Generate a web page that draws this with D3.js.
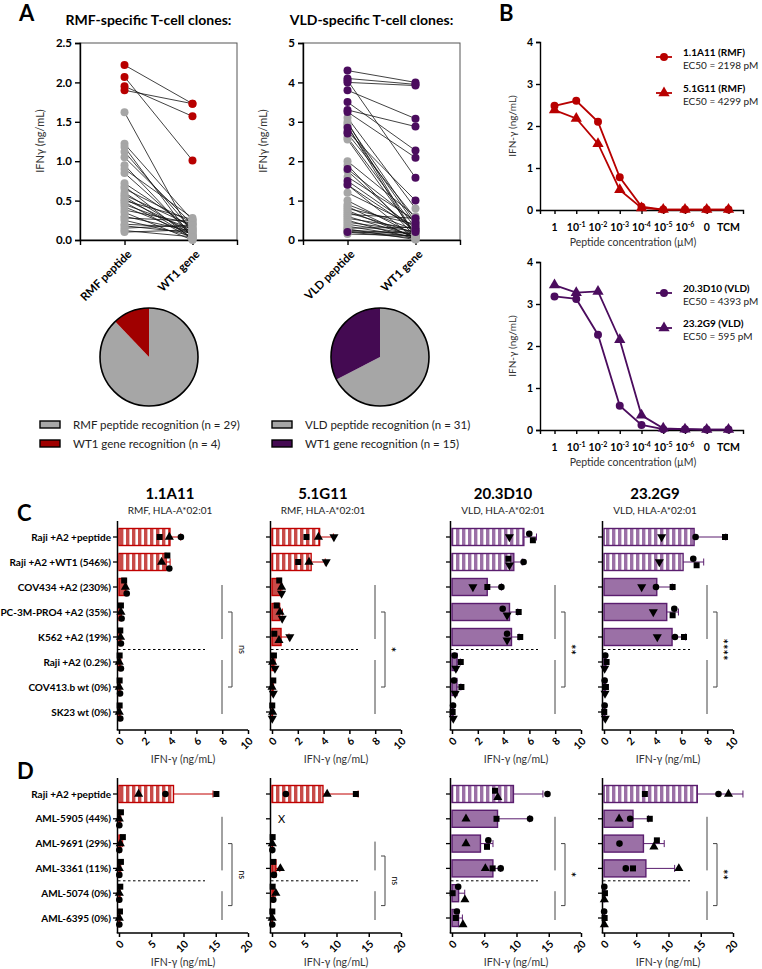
<!DOCTYPE html>
<html>
<head>
<meta charset="utf-8">
<script src="https://cdn.jsdelivr.net/npm/d3@7"></script>
<style>
  body { margin: 0; background: #fff; }
  svg { display: block; font-family: Lato, "Open Sans", sans-serif; }
</style>
</head>
<body>
<svg id="fig" width="762" height="969"></svg>
<script>
// ---- panel A data (one entry per T-cell clone) ----
var rmfPeptide = [2.22, 2.07, 1.95, 1.90, 1.62, 1.22, 1.18, 1.12, 1.05, 0.95, 0.90, 0.85, 0.72, 0.68, 0.65, 0.60, 0.57,
    0.55, 0.52, 0.50, 0.48, 0.45, 0.42, 0.38, 0.35, 0.30, 0.28, 0.25, 0.20, 0.18, 0.15, 0.12, 0.10];
var rmfGene = [1.73, 1.01, 1.57, 1.73, 0.05, 0.25, 0.02, 0.12, 0.20, 0.04, 0.28, 0.08, 0.15, 0.01, 0.22, 0.06, 0.18,
    0.03, 0.10, 0.26, 0.02, 0.14, 0.07, 0.21, 0.00, 0.11, 0.24, 0.05, 0.16, 0.09, 0.19, 0.04, 0.13];
var rmfGeneHit = [1, 1, 1, 1, 0, 0, 0, 0, 0, 0, 0, 0, 0, 0, 0, 0, 0, 0, 0, 0, 0, 0, 0, 0, 0, 0, 0, 0, 0, 0, 0, 0, 0];
var vldPeptide = [4.30, 4.10, 4.05, 4.00, 3.80, 3.50, 3.30, 3.25, 2.85, 2.75, 2.70, 1.80, 1.50, 1.40, 0.20,
    3.10, 3.00, 2.95, 2.90, 2.60, 2.55, 2.00, 1.90, 1.75, 1.60, 1.40, 1.20, 1.00, 0.90, 0.85, 0.80, 0.75, 0.70,
    0.65, 0.60, 0.55, 0.50, 0.45, 0.40, 0.35, 0.30, 0.28, 0.25, 0.22, 0.20, 0.15];
var vldGene = [4.00, 3.95, 1.58, 3.92, 3.08, 2.27, 2.88, 2.09, 0.38, 1.00, 0.55, 0.45, 0.30, 0.25, 0.20,
    0.80, 0.10, 0.45, 0.05, 0.30, 0.15, 0.60, 0.08, 0.20, 0.50, 0.02, 0.35, 0.12, 0.25, 0.04, 0.40, 0.06, 0.18,
    0.55, 0.09, 0.28, 0.03, 0.22, 0.14, 0.07, 0.32, 0.01, 0.16, 0.10, 0.05, 0.11];
var vldGeneHit = [1, 1, 1, 1, 1, 1, 1, 1, 1, 1, 1, 1, 1, 1, 1,
    0, 0, 0, 0, 0, 0, 0, 0, 0, 0, 0, 0, 0, 0, 0, 0, 0, 0, 0, 0, 0, 0, 0, 0, 0, 0, 0, 0, 0, 0, 0];
var rmfCounts = [29, 4];
var vldCounts = [31, 15];

// ---- panel B data ----
var concLabels = ["1", "10-1", "10-2", "10-3", "10-4", "10-5", "10-6", "0", "TCM"];
var ifn1A11 = [2.48, 2.60, 2.10, 0.78, 0.08, 0.01, 0.01, 0.01, 0.01];
var ifn5G11 = [2.38, 2.18, 1.58, 0.48, 0.05, 0.01, 0.01, 0.01, 0.01];
var ifn3D10 = [3.18, 3.12, 2.27, 0.58, 0.12, 0.02, 0.02, 0.01, 0.01];
var ifn2G9 = [3.45, 3.27, 3.30, 2.15, 0.35, 0.04, 0.02, 0.01, 0.01];

// ---- panel C / D data: three replicates per cell line ----
var clones = ["1.1A11", "5.1G11", "20.3D10", "23.2G9"];
var cloneInfo = ["RMF, HLA-A*02:01", "RMF, HLA-A*02:01", "VLD, HLA-A*02:01", "VLD, HLA-A*02:01"];
var cLines = ["Raji +A2 +peptide", "Raji +A2 +WT1 (546%)", "COV434 +A2 (230%)", "PC-3M-PRO4 +A2 (35%)",
    "K562 +A2 (19%)", "Raji +A2 (0.2%)", "COV413.b wt (0%)", "SK23 wt (0%)"];
var dLines = ["Raji +A2 +peptide", "AML-5905 (44%)", "AML-9691 (29%)", "AML-3361 (11%)", "AML-5074 (0%)", "AML-6395 (0%)"];
var cSymbols = [["square", "triangle", "circle"], ["square", "triangle", "triangleDown"],
    ["circle", "square", "triangleDown"], ["circle", "square", "triangleDown"]];
var dSymbols = [["square", "triangle", "circle"], ["square", "triangle", "circle"],
    ["circle", "square", "triangle"], ["circle", "square", "triangle"]];
var cReps = [
    [[3.15, 3.9, 4.8], [3.75, 3.3, 3.9], [0.4, 0.5, 0.6], [0.15, 0.15, 0.2], [0.1, 0.12, 0.15], [0.05, 0.02, 0.15], [0.05, 0.02, 0.08], [0.05, 0.02, 0.1]],
    [[2.67, 3.6, 4.8], [2.03, 2.87, 4.2], [0.56, 0.74, 0.74], [0.36, 0.62, 0.79], [0.18, 0.54, 1.38], [0.15, 0.05, 0.23], [0.1, 0.0, 0.1], [0.02, 0.05, 0.02]],
    [[5.99, 6.27, 4.45], [5.55, 4.37, 4.45], [3.83, 2.74, 1.62], [3.93, 5.17, 4.27], [4.27, 5.29, 4.27], [0.2, 0.68, 0.3], [0.16, 0.73, 0.25], [0.08, 0.05, 0.1]],
    [[7.1, 9.38, 4.47], [6.92, 7.18, 4.29], [4.03, 5.32, 2.92], [5.45, 5.32, 3.82], [5.5, 6.2, 4.13], [0.1, 0.2, 0.05], [0.05, 0.15, 0.08], [0.05, 0.02, 0.1]]
];
var dReps = [
    [[15.1, 3.04, 7.2], [0.3, 0.05, 0.05], [0.6, 0.2, 0.05], [0.3, 0.05, 0.05], [0.2, 0.05, 0.05], [0.15, 0.05, 0.05]],
    [[13.0, 8.55, 2.15], null, [0.1, 0.05, 0.05], [0.2, 1.3, 0.3], [0.1, 0.6, 0.2], [0.05, 0.02, 0.05]],
    [[14.8, 6.67, 7.1], [12.1, 6.9, 2.17], [5.63, 5.43, 2.17], [7.55, 6.3, 5.17], [0.96, 0.1, 2.0], [0.75, 0.6, 1.7]],
    [[17.75, 6.34, 19.3], [4.05, 7.1, 2.34], [2.4, 8.2, 7.74], [3.38, 4.5, 11.6], [0.05, 0.15, 0.05], [0.02, 0.1, 0.05]]
];
var cStats = ["ns", "*", "**", "****"];
var dStats = ["ns", "ns", "*", "**"];

// ---- colours ----
var red = "#b80000", purple = "#4b0c5e", grey = "#a6a6a6";
var pieRed = "#a00000", piePurple = "#440a52";
var barRedFill = "#c84b48", barRedLine = "#c00000";
var barPurpleFill = "#9b70a6", barPurpleLine = "#5a1d6e";

var svg = d3.select("#fig");
svg.append("rect").attr("width", 762).attr("height", 969).attr("fill", "#fff");
var defs = svg.append("defs");
var hatch = function (id, stripe) {
    var p = defs.append("pattern").attr("id", id)
        .attr("patternUnits", "userSpaceOnUse").attr("width", 6).attr("height", 10);
    p.append("rect").attr("width", 6).attr("height", 10).attr("fill", "#fff");
    p.append("rect").attr("width", 3.4).attr("height", 10).attr("fill", stripe);
};
hatch("hatchRed", barRedFill);
hatch("hatchPurple", barPurpleFill);

var panelLetter = function (t, x, y) {
    svg.append("text").attr("x", x).attr("y", y).attr("font-size", 22).attr("font-weight", 700).text(t);
};
panelLetter("A", 19, 21);
panelLetter("B", 499, 21);
panelLetter("C", 17, 521);
panelLetter("D", 17, 779);

// ================= panel A =================
var pairedPanel = function (opt) {
    var g = svg.append("g");
    var x = d3.scalePoint().domain(opt.cats).range([opt.left, opt.right]).padding(0.655);
    var y = d3.scaleLinear().domain([0, opt.max]).range([240, 43]);
    g.append("text").attr("x", (opt.left + opt.right) / 2 - 10).attr("y", 25).attr("text-anchor", "middle")
        .attr("font-size", 14).attr("font-weight", 700).text(opt.title);
    g.append("rect").attr("x", opt.left).attr("y", 43).attr("width", opt.right - opt.left).attr("height", 197)
        .attr("fill", "none").attr("stroke", "#555").attr("stroke-width", 1);
    var ya = g.append("g").attr("transform", "translate(" + opt.left + ",0)")
        .call(d3.axisLeft(y).tickValues(opt.ticks).tickFormat(d3.format(opt.fmt)).tickSize(5));
    ya.selectAll("text").attr("font-size", 11.5).attr("font-weight", 700).attr("font-family", "Lato");
    ya.selectAll("line, path").attr("stroke", "#000").attr("stroke-width", 1.4);
    var xa = g.append("g").attr("transform", "translate(0,240)")
        .call(d3.axisBottom(x).tickSize(5).tickFormat(""));
    xa.selectAll("line, path").attr("stroke", "#000").attr("stroke-width", 1.4);
    opt.cats.forEach(function (c) {
        g.append("text").attr("transform", "translate(" + (x(c) + 5) + ",252) rotate(-45)")
            .attr("text-anchor", "end").attr("dy", "0.35em").attr("font-size", 11.5).attr("font-weight", 700).text(c);
    });
    g.append("text").attr("transform", "translate(" + (opt.left - 36) + ",141) rotate(-90)")
        .attr("text-anchor", "middle").attr("font-size", 11).attr("fill", "#333").text("IFNγ (ng/mL)");
    var idx = d3.range(opt.peptide.length);
    g.selectAll("line.pair").data(idx).enter().append("line")
        .attr("x1", x(opt.cats[0])).attr("x2", x(opt.cats[1]))
        .attr("y1", function (i) { return y(opt.peptide[i]); })
        .attr("y2", function (i) { return y(opt.gene[i]); })
        .attr("stroke", "#111").attr("stroke-width", 0.8);
    var order = idx.slice().sort(function (a, b) { return opt.hit[a] - opt.hit[b]; });
    order.forEach(function (i) {
        var col = opt.hit[i] ? opt.color : grey;
        g.append("circle").attr("cx", x(opt.cats[0])).attr("cy", y(opt.peptide[i])).attr("r", 4).attr("fill", col);
        g.append("circle").attr("cx", x(opt.cats[1])).attr("cy", y(opt.gene[i])).attr("r", 4).attr("fill", col);
    });
};
pairedPanel({ title: "RMF-specific T-cell clones:", cats: ["RMF peptide", "WT1 gene"], left: 80, right: 237,
    max: 2.5, ticks: [0, 0.5, 1, 1.5, 2, 2.5], fmt: ".1f", peptide: rmfPeptide, gene: rmfGene, hit: rmfGeneHit, color: red });
pairedPanel({ title: "VLD-specific T-cell clones:", cats: ["VLD peptide", "WT1 gene"], left: 303, right: 460,
    max: 5, ticks: [0, 1, 2, 3, 4, 5], fmt: "d", peptide: vldPeptide, gene: vldGene, hit: vldGeneHit, color: purple });

// pies
var pie = d3.pie().sort(null);
var arc = d3.arc().innerRadius(0).outerRadius(49);
var drawPie = function (cx, counts, col) {
    var g = svg.append("g").attr("transform", "translate(" + cx + ",357)");
    g.selectAll("path").data(pie(counts)).enter().append("path")
        .attr("d", arc).attr("fill", function (d, i) { return i === 0 ? grey : col; });
    g.append("circle").attr("r", 49).attr("fill", "none").attr("stroke", "#000").attr("stroke-width", 1.6);
};
drawPie(149, rmfCounts, pieRed);
drawPie(380, vldCounts, piePurple);

var legendRows = [
    { x: 40, y: 425, fill: grey, text: "RMF peptide recognition (n = " + rmfCounts[0] + ")" },
    { x: 40, y: 444, fill: pieRed, text: "WT1 gene recognition (n = " + rmfCounts[1] + ")" },
    { x: 272, y: 425, fill: grey, text: "VLD peptide recognition (n = " + vldCounts[0] + ")" },
    { x: 272, y: 444, fill: piePurple, text: "WT1 gene recognition (n = " + vldCounts[1] + ")" }
];
legendRows.forEach(function (r) {
    svg.append("rect").attr("x", r.x).attr("y", r.y - 4).attr("width", 20).attr("height", 7)
        .attr("fill", r.fill).attr("stroke", "#000").attr("stroke-width", 1.4);
    svg.append("text").attr("x", r.x + 33).attr("y", r.y).attr("dy", "0.35em")
        .attr("font-size", 11.5).attr("fill", "#222").text(r.text);
});

// ================= panel B =================
var symbolPath = function (type, size) {
    if (type === "circle") return d3.symbol(d3.symbolCircle, size)();
    if (type === "square") return d3.symbol(d3.symbolSquare, size)();
    return d3.symbol(d3.symbolTriangle, size)();
};
var curvePanel = function (yTop, yBot, series) {
    var g = svg.append("g");
    var x = d3.scalePoint().domain(concLabels).range([540, 743]).padding(0.667);
    var y = d3.scaleLinear().domain([0, 4]).range([yBot, yTop]);
    var ya = g.append("g").attr("transform", "translate(540,0)")
        .call(d3.axisLeft(y).ticks(4).tickSize(4));
    ya.selectAll("text").attr("font-size", 10.5).attr("font-weight", 700).attr("font-family", "Lato");
    ya.selectAll("line, path").attr("stroke", "#000").attr("stroke-width", 1.4);
    var xa = g.append("g").attr("transform", "translate(0," + yBot + ")")
        .call(d3.axisBottom(x).tickSize(4).tickFormat(""));
    xa.selectAll("line, path").attr("stroke", "#000").attr("stroke-width", 1.4);
    concLabels.forEach(function (c) {
        var t = g.append("text").attr("x", x(c)).attr("y", yBot + 21).attr("text-anchor", "middle")
            .attr("font-size", 10.5).attr("font-weight", 700);
        if (c.indexOf("10-") === 0) {
            t.append("tspan").text("10");
            t.append("tspan").attr("dy", -4).attr("font-size", 7).text("-" + c.slice(3));
        } else {
            t.text(c);
        }
    });
    g.append("text").attr("x", 633).attr("y", yBot + 36).attr("text-anchor", "middle")
        .attr("font-size", 10.5).attr("fill", "#333").text("Peptide concentration (µM)");
    g.append("text").attr("transform", "translate(516," + (yTop + yBot) / 2 + ") rotate(-90)")
        .attr("text-anchor", "middle").attr("font-size", 10).attr("fill", "#333").text("IFN-γ (ng/mL)");
    var line = d3.line().x(function (d, i) { return x(concLabels[i]); }).y(function (d) { return y(d); });
    series.forEach(function (s) {
        g.append("path").attr("d", line(s.values)).attr("fill", "none").attr("stroke", s.color).attr("stroke-width", 1.8);
        g.selectAll(null).data(s.values).enter().append("path")
            .attr("transform", function (d, i) { return "translate(" + x(concLabels[i]) + "," + y(d) + ")"; })
            .attr("d", symbolPath(s.symbol, s.symbol === "circle" ? 50 : 55)).attr("fill", s.color);
        g.append("line").attr("x1", 656).attr("x2", 672).attr("y1", s.legendY).attr("y2", s.legendY)
            .attr("stroke", s.color).attr("stroke-width", 1.8);
        g.append("path").attr("transform", "translate(664," + s.legendY + ")")
            .attr("d", symbolPath(s.symbol, s.symbol === "circle" ? 50 : 55)).attr("fill", s.color);
        g.append("text").attr("x", 683).attr("y", s.legendY - 1).attr("font-size", 10).attr("font-weight", 700).text(s.name);
        g.append("text").attr("x", 683).attr("y", s.legendY + 12).attr("font-size", 10).attr("fill", "#222").text(s.ec50);
    });
};
curvePanel(42, 210, [
    { name: "1.1A11 (RMF)", ec50: "EC50 = 2198 pM", values: ifn1A11, color: red, symbol: "circle", legendY: 57 },
    { name: "5.1G11 (RMF)", ec50: "EC50 = 4299 pM", values: ifn5G11, color: red, symbol: "triangle", legendY: 93 }
]);
curvePanel(262, 430, [
    { name: "20.3D10 (VLD)", ec50: "EC50 = 4393 pM", values: ifn3D10, color: purple, symbol: "circle", legendY: 293 },
    { name: "23.2G9 (VLD)", ec50: "EC50 = 595 pM", values: ifn2G9, color: purple, symbol: "triangle", legendY: 328 }
]);

// ================= panels C and D =================
var colX = [119, 272, 452, 604];
var barW = 129;
var spread = function (px) {
    var idx = d3.range(px.length).sort(function (a, b) { return px[a] - px[b]; });
    var clusters = [], cur = [idx[0]];
    for (var i = 1; i < idx.length; i++) {
        if (px[idx[i]] - px[idx[i - 1]] < 7) { cur.push(idx[i]); } else { clusters.push(cur); cur = [idx[i]]; }
    }
    clusters.push(cur);
    var off = [];
    clusters.forEach(function (c) {
        c.sort(function (a, b) { return a - b; });
        c.forEach(function (k, j) { off[k] = (j - (c.length - 1) / 2) * 6.5; });
    });
    return off;
};
var marker = function (g, type, cx, cy) {
    var p = g.append("path").attr("d", symbolPath(type, type === "circle" ? 34 : 36)).attr("fill", "#000");
    p.attr("transform", "translate(" + cx + "," + cy + ")" + (type === "triangleDown" ? " rotate(180)" : ""));
};

var barPanel = function (opt) {
    var g = svg.append("g");
    var x = d3.scaleLinear().domain([0, opt.max]).range([opt.x0, opt.x0 + barW]);
    var y = d3.scalePoint().domain(opt.cats).range(opt.yRange);
    var isRed = opt.clone < 2;
    var fill = isRed ? barRedFill : barPurpleFill;
    var stroke = isRed ? barRedLine : barPurpleLine;
    var hatchId = isRed ? "url(#hatchRed)" : "url(#hatchPurple)";
    // axes
    g.append("line").attr("x1", opt.x0 - 1.5).attr("x2", opt.x0 - 1.5).attr("y1", opt.top).attr("y2", opt.bottom)
        .attr("stroke", "#000").attr("stroke-width", 1.5);
    opt.cats.forEach(function (c) {
        g.append("line").attr("x1", opt.x0 - 6).attr("x2", opt.x0 - 1.5).attr("y1", y(c)).attr("y2", y(c))
            .attr("stroke", "#000").attr("stroke-width", 1.3);
        if (opt.labels) {
            g.append("text").attr("x", opt.x0 - 8).attr("y", y(c)).attr("dy", "0.35em").attr("text-anchor", "end")
                .attr("font-size", 10).attr("font-weight", 700).text(c);
        }
    });
    var xa = g.append("g").attr("transform", "translate(0," + opt.bottom + ")")
        .call(d3.axisBottom(x).tickValues(opt.ticks).tickSize(4).tickFormat(""));
    xa.select("path").attr("d", "M" + (opt.x0 - 2.25) + ",0H" + (opt.x0 + barW));
    xa.selectAll("line, path").attr("stroke", "#000").attr("stroke-width", 1.5);
    opt.ticks.forEach(function (t) {
        g.append("text").attr("transform", "translate(" + (x(t) + 3) + "," + (opt.bottom + 9) + ") rotate(-45)")
            .attr("text-anchor", "end").attr("dy", "0.35em").attr("font-size", 10.5).attr("font-weight", 700).text(t);
    });
    g.append("text").attr("x", opt.x0 + 64).attr("y", opt.bottom + 33).attr("text-anchor", "middle")
        .attr("font-size", 10.5).attr("fill", "#333").text("IFN-γ (ng/mL)");
    if (opt.title) {
        g.append("text").attr("x", opt.x0 + 51).attr("y", 499).attr("text-anchor", "middle")
            .attr("font-size", 15).attr("font-weight", 700).text(clones[opt.clone]);
        g.append("text").attr("x", opt.x0 + 51).attr("y", 514).attr("text-anchor", "middle")
            .attr("font-size", 10).attr("fill", "#222").text(cloneInfo[opt.clone]);
    }
    // bars, error bars, replicates
    opt.reps.forEach(function (r, i) {
        var cy = y(opt.cats[i]);
        if (r === null) {
            g.append("text").attr("x", opt.x0 + 6).attr("y", cy).attr("dy", "0.35em")
                .attr("font-size", 11).text("X");
            return;
        }
        var m = d3.mean(r), sd = d3.deviation(r);
        g.append("line").attr("x1", x(m)).attr("x2", x(m + sd)).attr("y1", cy).attr("y2", cy)
            .attr("stroke", stroke).attr("stroke-width", 1);
        g.append("line").attr("x1", x(m + sd)).attr("x2", x(m + sd)).attr("y1", cy - 3.5).attr("y2", cy + 3.5)
            .attr("stroke", stroke).attr("stroke-width", 1);
        g.append("rect").attr("x", opt.x0).attr("y", cy - 8.5).attr("width", Math.max(0, x(m) - opt.x0)).attr("height", 17)
            .attr("fill", i < opt.hatchRows ? hatchId : fill).attr("stroke", stroke).attr("stroke-width", 1.4);
        var px = r.map(function (v) { return x(v); });
        var off = spread(px);
        r.forEach(function (v, k) { marker(g, opt.symbols[k], px[k], cy + off[k]); });
    });
    // dashed separator and significance
    var rows = opt.reps.map(function (r, i) { return r === null ? null : y(opt.cats[i]); });
    var up = opt.upper.map(function (i) { return rows[i]; }).filter(function (v) { return v !== null; });
    var low = opt.lower.map(function (i) { return rows[i]; }).filter(function (v) { return v !== null; });
    var sepY = (y(opt.cats[opt.upper[opt.upper.length - 1]]) + y(opt.cats[opt.lower[0]])) / 2;
    g.append("line").attr("x1", opt.x0 - 1).attr("x2", opt.x0 + 86).attr("y1", sepY).attr("y2", sepY)
        .attr("stroke", "#000").attr("stroke-width", 1).attr("stroke-dasharray", "2.5 2.5");
    var lx = opt.x0 + 103, bx = opt.x0 + 113;
    [up, low].forEach(function (grp) {
        g.append("line").attr("x1", lx).attr("x2", lx).attr("y1", d3.min(grp) - 2).attr("y2", d3.max(grp) + 2)
            .attr("stroke", "#444").attr("stroke-width", 1);
    });
    var b1 = (d3.min(up) + d3.max(up)) / 2, b2 = (d3.min(low) + d3.max(low)) / 2;
    g.append("path").attr("d", "M" + (bx - 4) + "," + b1 + "H" + bx + "V" + b2 + "H" + (bx - 4))
        .attr("fill", "none").attr("stroke", "#444").attr("stroke-width", 1);
    var isNs = opt.stat === "ns";
    g.append("text").attr("transform", "translate(" + (bx + 10) + "," + (b1 + b2) / 2 + ") rotate(90)")
        .attr("text-anchor", "middle").attr("dy", isNs ? "0.35em" : "0.7em")
        .attr("font-size", isNs ? 9 : 13).attr("font-weight", isNs ? 400 : 700).text(opt.stat);
};

clones.forEach(function (c, k) {
    barPanel({ clone: k, x0: colX[k], cats: cLines, reps: cReps[k], symbols: cSymbols[k], max: 10,
        ticks: [0, 2, 4, 6, 8, 10], yRange: [537, 712], top: 521, bottom: 730, hatchRows: 2,
        labels: k === 0, title: true, upper: [2, 3, 4], lower: [5, 6, 7], stat: cStats[k] });
    barPanel({ clone: k, x0: colX[k], cats: dLines, reps: dReps[k], symbols: dSymbols[k], max: 20,
        ticks: [0, 5, 10, 15, 20], yRange: [794, 918], top: 778, bottom: 933, hatchRows: 1,
        labels: k === 0, title: false, upper: [1, 2, 3], lower: [4, 5], stat: dStats[k] });
});
</script>
</body>
</html>
